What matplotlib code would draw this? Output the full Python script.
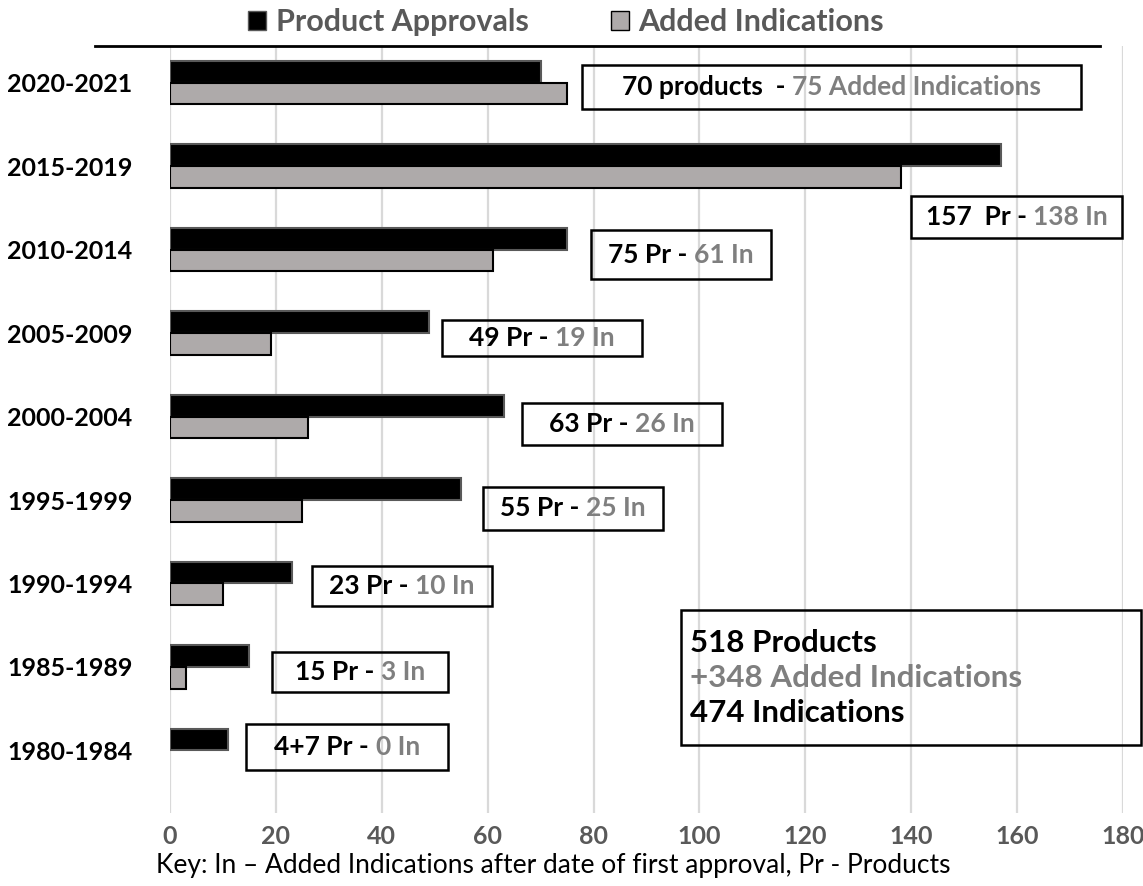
import matplotlib
matplotlib.use("Agg")
import matplotlib.pyplot as plt
from matplotlib.patches import Rectangle, Patch
from matplotlib.lines import Line2D
from matplotlib.offsetbox import TextArea, HPacker, VPacker, AnnotationBbox

plt.rcParams["font.family"] = ["Lato", "DejaVu Sans"]

# %%

periods = ["2020-2021", "2015-2019", "2010-2014", "2005-2009", "2000-2004",
           "1995-1999", "1990-1994", "1985-1989", "1980-1984"]
products = [70, 157, 75, 49, 63, 55, 23, 15, 11]
added_indications = [75, 138, 61, 19, 26, 25, 10, 3, 0]
product_labels = ["70 products  - ", "157  Pr - ", "75 Pr - ", "49 Pr - ", "63 Pr - ",
                  "55 Pr - ", "23 Pr - ", "15 Pr - ", "4+7 Pr - "]
indication_labels = ["75 Added Indications", "138 In", "61 In", "19 In", "26 In",
                     "25 In", "10 In", "3 In", "0 In"]
ticks = [0, 20, 40, 60, 80, 100, 120, 140, 160, 180]
total_lines = ["518 Products", "+348 Added Indications", "474 Indications"]

# label boxes: (x0, x1, y offset from category, height)
boxes = [(77.8, 172.1, 0.05, 0.52), (140.0, 179.9, 0.61, 0.51), (79.5, 113.5, 0.06, 0.58),
         (51.4, 89.2, 0.06, 0.44), (66.5, 104.3, 0.09, 0.50), (59.1, 93.1, 0.10, 0.52),
         (26.8, 60.8, 0.03, 0.49), (19.3, 52.5, 0.06, 0.48), (14.4, 52.5, -0.04, 0.55)]

BLACK = "#000000"
GREY = "#AEAAAA"
TXT_GREY = "#7F7F7F"
DARK_GREY = "#595959"

# %%

fig = plt.figure(figsize=(11.43, 8.86), dpi=100)
ax = fig.add_axes([170 / 1143, 1 - 813 / 886, (1123 - 170) / 1143, (813 - 46) / 886])

ypos = list(range(len(periods)))
h = 0.26
ax.barh([y - h / 2 for y in ypos], products, height=h, color=BLACK,
        edgecolor=DARK_GREY, linewidth=1.5, zorder=3)
ax.barh([y + h / 2 for y in ypos], added_indications, height=h, color=GREY,
        edgecolor=BLACK, linewidth=[1.5 if v > 0 else 0 for v in added_indications], zorder=3)

ax.set_xlim(0, 180)
ax.set_ylim(8.75, -0.44)
ax.set_xticks(ticks)
ax.set_xticklabels([str(t) for t in ticks], fontsize=18, fontweight="bold", color=DARK_GREY)
ax.set_yticks(ypos)
ax.set_yticklabels(periods, fontsize=18, fontweight="bold", color=BLACK)
ax.tick_params(axis="both", length=0)
ax.tick_params(axis="x", pad=9)
ax.tick_params(axis="y", pad=27)
for s in ax.spines.values():
    s.set_visible(False)
ax.grid(axis="x", color="#D9D9D9", linewidth=1.6, zorder=0)
ax.set_axisbelow(True)

# per-period label boxes
for i, (x0, x1, dy, bh) in enumerate(boxes):
    yc = i + dy
    ax.add_patch(Rectangle((x0, yc - bh / 2), x1 - x0, bh, fill=False, edgecolor=BLACK,
                           linewidth=1.8, zorder=4, clip_on=False))
    parts = HPacker(children=[
        TextArea(product_labels[i], textprops=dict(fontsize=19, fontweight="bold", color=BLACK)),
        TextArea(indication_labels[i], textprops=dict(fontsize=19, fontweight="bold", color=TXT_GREY)),
    ], pad=0, sep=0, align="baseline")
    ax.add_artist(AnnotationBbox(parts, ((x0 + x1) / 2, yc), frameon=False,
                                 box_alignment=(0.5, 0.5), zorder=5, annotation_clip=False))

# totals box
ax.add_patch(Rectangle((96.5, 6.32), 183.4 - 96.5, 7.94 - 6.32, fill=False, edgecolor=BLACK,
                       linewidth=1.8, zorder=4, clip_on=False))
colors = [BLACK, TXT_GREY, BLACK]
lines = VPacker(children=[TextArea(t, textprops=dict(fontsize=22.5, fontweight="bold", color=c))
                          for t, c in zip(total_lines, colors)], pad=0, sep=5, align="left")
ax.add_artist(AnnotationBbox(lines, (98.3, 7.13), frameon=False, box_alignment=(0, 0.5),
                             zorder=5, annotation_clip=False))

# legend and rule under it
handles = [Patch(facecolor=BLACK, edgecolor=DARK_GREY, label="Product Approvals"),
           Patch(facecolor=GREY, edgecolor=BLACK, label="Added Indications")]
leg = fig.legend(handles=handles, loc="center", bbox_to_anchor=(566 / 1143, 1 - 22 / 886),
                 ncol=2, frameon=False, handlelength=0.6, handleheight=0.6, handletextpad=0.3,
                 columnspacing=2.7, prop=dict(size=22, weight="bold"))
for t in leg.get_texts():
    t.set_color(DARK_GREY)
fig.add_artist(Line2D([95 / 1143, 1100 / 1143], [1 - 46 / 886, 1 - 46 / 886],
                      color=BLACK, linewidth=2))

fig.text(553 / 1143, 1 - 866 / 886,
         "Key: In \u2013 Added Indications after date of first approval, Pr - Products",
         ha="center", va="center", fontsize=19, color=BLACK)

fig.savefig("out.png", dpi=100)
